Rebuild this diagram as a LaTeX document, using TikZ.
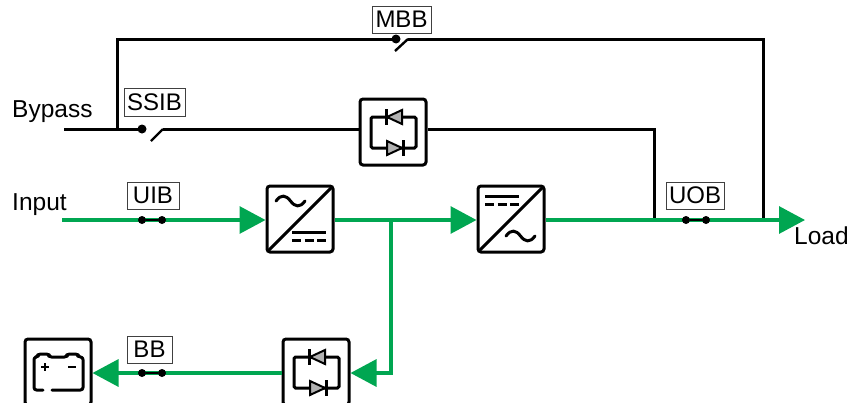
\documentclass[tikz,border=0pt]{standalone}
\usepackage{fontspec}
\setmainfont{Liberation Sans}
\usetikzlibrary{arrows.meta}
\definecolor{ugreen}{HTML}{00A651}
\tikzset{
  x=1pt,y=-1pt,
  wire/.style={line width=3pt,black,line cap=butt},
  gwire/.style={line width=3.2pt,ugreen},
  garrow/.style={gwire,-{Triangle[length=26pt,width=27pt]}},
  unit/.style={draw,line width=3pt,rounded corners=3pt,minimum size=66pt,inner sep=0pt,fill=white},
  tag/.style={draw=black!75,line width=1pt,fill=white,inner sep=0pt,font=\fontsize{24}{24}\selectfont,minimum height=27pt,anchor=center},
  txt/.style={inner sep=0pt,anchor=base west,font=\fontsize{24.5}{24}\selectfont},
  blade/.style={line width=2.4pt,black},
  dot/.style={circle,fill=black,inner sep=0pt,minimum size=9pt},
  sdot/.style={circle,fill=black,inner sep=0pt,minimum size=8pt},
  diodes/.pic={
    \draw[line width=3pt,rounded corners=1.5pt] (-6,-15) -- (-22,-15) -- (-22,16) -- (23,16) -- (23,-15) -- (9,-15);
    \draw[line width=3pt] (-6,-15) -- (9,-15);
    \filldraw[line width=2pt,fill=black!30,line join=miter] (9,-22) -- (9,-8) -- (-6,-15) -- cycle;
    \draw[line width=3pt] (-7,-23) -- (-7,-7);
    \filldraw[line width=2pt,fill=black!30,line join=miter] (-6,9) -- (-6,23) -- (9,16) -- cycle;
    \draw[line width=3pt] (10,8) -- (10,24);
  },
  wave/.pic={
    \draw[line width=3pt,line cap=round] (0,0) .. controls (5,-7) and (10,-6) .. (14.5,0) .. controls (19,6) and (24,7) .. (29,0);
  },
  dcbars/.pic={
    \draw[line width=3pt] (0,0) -- (34,0);
    \draw[line width=3pt] (0,8) -- (9,8) (12.5,8) -- (21.5,8) (25,8) -- (34,8);
  },
}
\begin{document}
\begin{tikzpicture}
\useasboundingbox (0,0) rectangle (861,402);
% units
\node[unit] (st) at (393,132) {};
\node[unit] (rec) at (300,219) {};
\node[unit] (inv) at (511,219) {};
\node[unit] (chg) at (316,372) {};
\node[unit] (bat) at (58,372) {};
% coordinates
\coordinate (bypassin) at (64,129);
\coordinate (bypasssw) at (142,129);
\coordinate (bypassout) at (163,129);
\coordinate (topjoin) at (117,129);
\coordinate (topleft) at (117,39);
\coordinate (mbbin) at (396,39);
\coordinate (mbbout) at (408,39);
\coordinate (topright) at (763,39);
\coordinate (topend) at (763,220);
\coordinate (stcorner) at (654,129);
\coordinate (stend) at (654,220);
\coordinate (inputin) at (62,220);
\coordinate (load) at (805,220);
\coordinate (branch) at (391,220);
\coordinate (branchcorner) at (391,373);
% black wires
\draw[wire] (bypassin) -- (bypasssw);
\draw[wire] (bypassout) -- (st.west |- bypassout);
\draw[wire,line join=miter] (topjoin) -- (topleft) -- (mbbin);
\draw[wire,line join=miter] (mbbout) -- (topright) -- (topend);
\draw[wire,line join=miter] (st.east |- bypassout) -- (stcorner) -- (stend);
% green wires
\draw[garrow] (inputin) -- (rec.west |- inputin);
\draw[garrow] (rec.east |- inputin) -- (inv.west |- inputin);
\draw[garrow] (inv.east |- inputin) -- (load);
\draw[gwire,line join=miter] (branch) -- (branchcorner) -- ++(-14,0);
\draw[garrow] (branchcorner) -- (chg.east |- branchcorner);
\draw[garrow] (chg.west |- branchcorner) -- (bat.east |- branchcorner);
% switches
\node[dot] (mbbdot) at (mbbin) {};
\draw[blade] (395,51) -- (mbbout);
\node[dot] (ssibdot) at (bypasssw) {};
\draw[blade] (151,141) -- (bypassout);
\foreach \n/\xa/\xb/\yy in {uib/142/162/220,uob/686/706/220,bb/142/162/373}{
  \node[sdot] (\n a) at (\xa,\yy) {};
  \node[sdot] (\n b) at (\xb,\yy) {};
  \draw[line width=1.6pt,black] (\n a) -- (\n b);
}
% icons
\pic at (st) {diodes};
\pic at (chg) {diodes};
\draw[line width=3pt] ([shift={(2.5,-2.5)}]rec.south west) -- ([shift={(-2.5,2.5)}]rec.north east);
\pic at (276,201) {wave};
\pic at (292,232) {dcbars};
\draw[line width=3pt] ([shift={(2.5,-2.5)}]inv.south west) -- ([shift={(-2.5,2.5)}]inv.north east);
\pic at (485,196) {dcbars};
\pic at (506,236) {wave};
% battery
\draw[line width=3pt,line cap=round,line join=round,rounded corners=2.5pt]
  (43,390) -- (34,390) -- (34,357) -- (38,357) -- (38,354) -- (49,354) -- (49,357) -- (67,357) -- (67,354) -- (78,354) -- (78,357) -- (83,357) -- (83,390) -- (52,390);
\draw[line width=2.2pt] (41,367) -- (49,367) (45,363) -- (45,371);
\draw[line width=2.4pt] (68,367) -- (76,367);
% labels
\node[tag,minimum width=59pt] (mbb) at (401.5,19.5) {MBB};
\node[tag,minimum width=61pt,minimum height=28pt] (ssib) at (154.5,102) {SSIB};
\node[tag,minimum width=52pt] (uib) at (153,195.5) {UIB};
\node[tag,minimum width=58pt] (uob) at (695,195.5) {UOB};
\node[tag,minimum width=45pt] (bbl) at (149.5,349.5) {BB};
\node[txt] (bypass) at (12,117) {Bypass};
\node[txt] (input) at (12,210) {Input};
\node[txt] (loadl) at (794,244) {Load};
\end{tikzpicture}
\end{document}
